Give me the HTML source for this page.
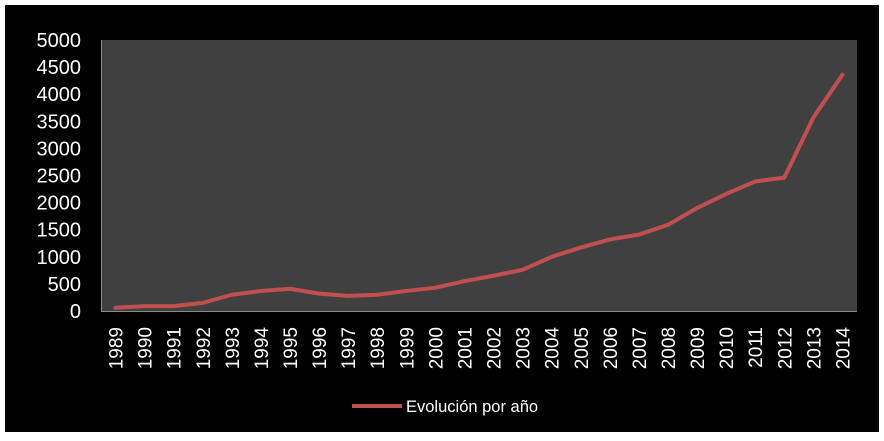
<!DOCTYPE html>
<html><head><meta charset="utf-8"><style>
body{margin:0;background:#fff;width:884px;height:436px;overflow:hidden}
svg text{font-family:"Liberation Sans",sans-serif;fill:#fff}
</style></head><body>
<svg width="884" height="436">
<rect x="5" y="5" width="874" height="427" fill="#000"/>
<rect x="101" y="40" width="756" height="271" fill="#404040"/>
<line x1="101" y1="311.5" x2="857" y2="311.5" stroke="#888"/>
<line x1="101.5" y1="40" x2="101.5" y2="311" stroke="#888"/>
<g id="yt"></g><g id="xt"></g>
<polyline id="line" fill="none" stroke="#c0504d" stroke-width="4" stroke-linejoin="round" stroke-linecap="round"/>
<line x1="352" y1="406" x2="402" y2="406" stroke="#c0504d" stroke-width="4"/>
<text x="406" y="412" font-size="16.5">Evolución por año</text>
</svg>
<script>
const years=["1989","1990","1991","1992","1993","1994","1995","1996","1997","1998","1999","2000","2001","2002","2003","2004","2005","2006","2007","2008","2009","2010","2011","2012","2013","2014"];
const values=[60,90,90,150,300,370,410,320,280,300,370,430,550,650,760,1000,1170,1320,1410,1590,1900,2160,2390,2460,3570,4360];
const yTicks=[0,500,1000,1500,2000,2500,3000,3500,4000,4500,5000];
const NS="http://www.w3.org/2000/svg";
const L=101,R=857,T=40,B=311,YMAX=5000;
const step=(R-L)/years.length;
const xs=i=>L+step*(i+0.5);
const ys=v=>B-(v/YMAX)*(B-T);
const yt=document.getElementById('yt');
yTicks.forEach(v=>{const t=document.createElementNS(NS,'text');


t.setAttribute('x',81);t.setAttribute('y',ys(v)+7);t.setAttribute('font-size','20');t.setAttribute('text-anchor','end');t.textContent=v;yt.appendChild(t);});
const xt=document.getElementById('xt');
years.forEach((y,i)=>{const t=document.createElementNS(NS,'text');


const x=xs(i)+7,yy=327;t.setAttribute('transform',`translate(${x},${yy}) rotate(-90)`);t.setAttribute('font-size','19');t.setAttribute('text-anchor','end');t.textContent=y;xt.appendChild(t);});
document.getElementById('line').setAttribute('points',values.map((v,i)=>xs(i)+','+ys(v)).join(' '));
</script>
</body></html>
